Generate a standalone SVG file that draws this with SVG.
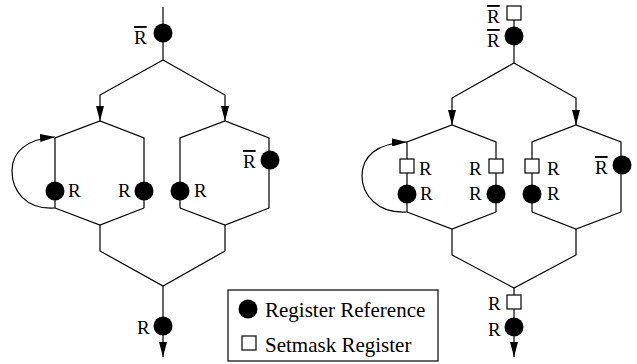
<svg xmlns="http://www.w3.org/2000/svg" width="637" height="364" viewBox="0 0 637 364">
<style>
.ln{fill:none;stroke:#000;stroke-width:1.2}
.dot{fill:#000}
.sq{fill:#fff;stroke:#000;stroke-width:1.2}
.t{font-family:"Liberation Serif","Times New Roman",serif;font-size:19px;fill:#000}
.ob{text-decoration:overline}
.lg{font-family:"Liberation Serif","Times New Roman",serif;font-size:21px;fill:#000}
</style>
<defs>
<marker id="ah" viewBox="0 0 15 8" refX="15" refY="4" markerWidth="15" markerHeight="8" markerUnits="userSpaceOnUse" orient="auto">
<path d="M0,0 L15,4 L0,8 Z" fill="#000"/>
</marker>
</defs>
<g id="connectors">
<!-- left diagram -->
<path class="ln" d="M163,7 V60"/>
<path class="ln" d="M163,60 L100,95 V121" marker-end="url(#ah)"/>
<path class="ln" d="M163,60 L225,95 V121" marker-end="url(#ah)"/>
<path class="ln" d="M55,208 V138 L100,121 L144,138 V208"/>
<path class="ln" d="M180,208 V138 L225,121 L269,138 V208"/>
<path class="ln" d="M55,208 L100,225 L144,208"/>
<path class="ln" d="M180,208 L225,225 L269,208"/>
<path class="ln" d="M100,225 V251 L163,286 L225,251 V225"/>
<path class="ln" d="M163,286 V357" marker-end="url(#ah)"/>
<path class="ln" d="M55,208 C25,210 12,190 12,171 C12,152 26,139 55,137" marker-end="url(#ah)"/>
<!-- right diagram -->
<path class="ln" d="M514,20 V63"/>
<path class="ln" d="M514,63 L452,98 V125" marker-end="url(#ah)"/>
<path class="ln" d="M514,63 L576,98 V125" marker-end="url(#ah)"/>
<path class="ln" d="M407,212 V142 L452,125 L496,142 V212"/>
<path class="ln" d="M532,212 V142 L576,125 L621,142 V212"/>
<path class="ln" d="M407,212 L452,229 L496,212"/>
<path class="ln" d="M532,212 L576,229 L621,212"/>
<path class="ln" d="M452,229 V255 L514,288 L576,255 V229"/>
<path class="ln" d="M514,288 V357" marker-end="url(#ah)"/>
<path class="ln" d="M407,212 C377,214 362,194 362,176 C362,157 376,143 407,142" marker-end="url(#ah)"/>
</g>
<!-- left diagram nodes -->
<g id="L-top"><circle class="dot" cx="163" cy="33" r="9.5"/><text class="t" x="134" y="44"><tspan class="ob">R</tspan></text></g>
<g id="L-a"><circle class="dot" cx="55" cy="191" r="9.5"/><text class="t" x="68" y="197">R</text></g>
<g id="L-b"><circle class="dot" cx="144" cy="191" r="9.5"/><text class="t" x="118" y="197">R</text></g>
<g id="L-c"><circle class="dot" cx="180" cy="191" r="9.5"/><text class="t" x="194" y="197">R</text></g>
<g id="L-d"><circle class="dot" cx="270" cy="160" r="9.5"/><text class="t" x="243" y="168"><tspan class="ob">R</tspan></text></g>
<g id="L-bot"><circle class="dot" cx="163" cy="326" r="9.5"/><text class="t" x="137" y="334">R</text></g>
<!-- right diagram nodes -->
<g id="R-top-sq"><rect class="sq" x="507" y="6" width="14" height="14"/><text class="t" x="487" y="23"><tspan class="ob">R</tspan></text></g>
<g id="R-top"><circle class="dot" cx="514" cy="36" r="9.5"/><text class="t" x="487" y="47"><tspan class="ob">R</tspan></text></g>
<g id="R-a-sq"><rect class="sq" x="400" y="159" width="14" height="14"/><text class="t" x="419" y="175">R</text></g>
<g id="R-a"><circle class="dot" cx="407" cy="194" r="9.5"/><text class="t" x="420" y="200">R</text></g>
<g id="R-b-sq"><rect class="sq" x="489" y="159" width="14" height="14"/><text class="t" x="469" y="175">R</text></g>
<g id="R-b"><circle class="dot" cx="496" cy="194" r="9.5"/><text class="t" x="469" y="200">R</text></g>
<g id="R-c-sq"><rect class="sq" x="525" y="159" width="14" height="14"/><text class="t" x="547" y="175">R</text></g>
<g id="R-c"><circle class="dot" cx="532" cy="194" r="9.5"/><text class="t" x="547" y="200">R</text></g>
<g id="R-d"><circle class="dot" cx="622" cy="165" r="9.5"/><text class="t" x="595" y="174"><tspan class="ob">R</tspan></text></g>
<g id="R-bot-sq"><rect class="sq" x="507" y="295" width="14" height="14"/><text class="t" x="488" y="310">R</text></g>
<g id="R-bot"><circle class="dot" cx="514" cy="327" r="9.5"/><text class="t" x="488" y="336">R</text></g>
<!-- legend -->
<g id="legend">
<rect x="228" y="290" width="210" height="71" fill="#fff" stroke="#000" stroke-width="1.2"/>
<circle class="dot" cx="248" cy="309" r="9.5"/>
<text class="lg" x="265" y="317">Register Reference</text>
<rect class="sq" x="242" y="336" width="14" height="14"/>
<text class="lg" x="265" y="352">Setmask Register</text>
</g>
</svg>
